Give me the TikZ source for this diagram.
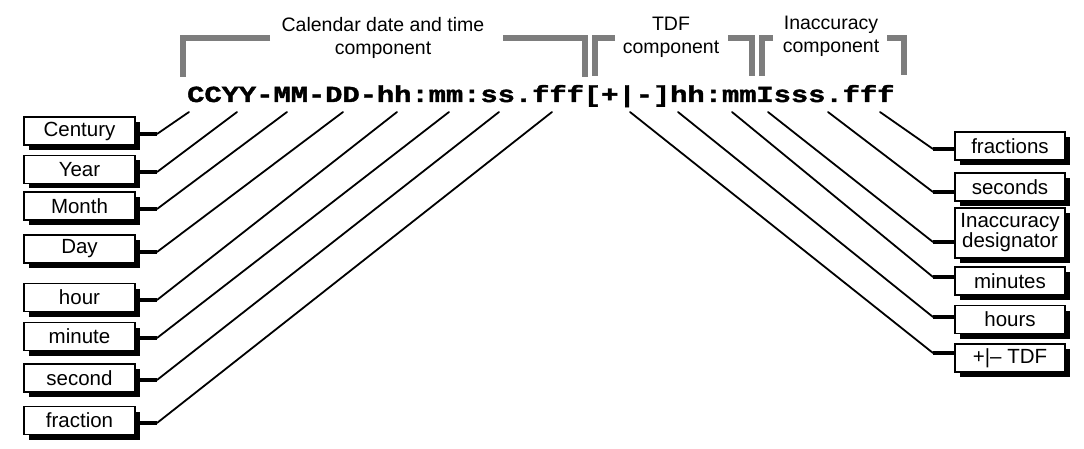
\documentclass[tikz,border=0pt]{standalone}
\usepackage{graphicx}
\usepackage{fontspec}
\setmainfont{Liberation Sans}
\newfontfamily\codefont[BoldFeatures={FakeBold=1.5}]{Liberation Mono}
\usetikzlibrary{shadows}
\definecolor{brk}{RGB}{125,125,125}
\begin{document}
\begin{tikzpicture}[x=1pt,y=-1pt,
  lbl/.style={draw, line width=1.8pt, fill=white, minimum width=111pt, minimum height=28pt,
    inner sep=0pt, align=center, font=\fontsize{20.5}{17}\selectfont,
    drop shadow={shadow xshift=5pt, shadow yshift=-5pt, fill=black, opacity=1}},
  rlbl/.style={lbl, minimum width=110pt},
  head/.style={align=center, inner sep=0pt, font=\fontsize{19.5}{23}\selectfont},
  bracket/.style={draw=brk, line width=6pt, line cap=butt, line join=miter},
  leader/.style={line width=1.8pt, line cap=round},
  stub/.style={line width=4pt, line cap=butt}]
\useasboundingbox (0,0) rectangle (1084,449);

% bracket headings
\node[head] (hcal) at (383,38) {Calendar date and time\\component};
\node[head] (htdf) at (671,37) {TDF\\component};
\node[head] (hina) at (831,36) {Inaccuracy\\component};

\draw[bracket] (270,38) -- (183,38) -- (183,77);
\draw[bracket] (503,38) -- (585,38) -- (585,77);
\draw[bracket] (615,38) -- (595,38) -- (595,76);
\draw[bracket] (728,38) -- (752,38) -- (752,76);
\draw[bracket] (773,38) -- (762,38) -- (762,76);
\draw[bracket] (887,38) -- (904,38) -- (904,75);

% format string
\node[anchor=base west, inner sep=0pt] (code) at (187,102)
  {\scalebox{1.25}[1]{\codefont\bfseries\fontsize{23}{23}\selectfont CCYY-MM-DD-hh:mm:ss.fff[+|-]hh:mmIsss.fff}};

% left boxes
\node[lbl] (century) at (79.5,131)   {Century};
\node[lbl] (year)    at (79.5,169.5) {Year};
\node[lbl] (month)   at (79.5,206)   {Month};
\node[lbl] (day)     at (79.5,249)   {Day};
\node[lbl] (hour)    at (79.5,297.5) {hour};
\node[lbl] (minute)  at (79.5,336.5) {minute};
\node[lbl] (second)  at (79.5,378)   {second};
\node[lbl] (fraction)at (79.5,420.5) {fraction};

% right boxes
\node[rlbl] (fractions) at (1010,146)   {fractions};
\node[rlbl] (seconds)   at (1010,187)   {seconds};
\node[rlbl, minimum height=50pt] (desig) at (1010,233) {Inaccuracy\\designator};
\node[rlbl] (minutes)   at (1010,281)   {minutes};
\node[rlbl] (hours)     at (1010,319.5) {hours};
\node[rlbl] (tdf)       at (1010,358)   {+|– TDF};

% leader top ends (under the format string)
\coordinate (tCentury) at (189,112);
\coordinate (tYear)    at (237,112);
\coordinate (tMonth)   at (287,112);
\coordinate (tDay)     at (343,112);
\coordinate (tHour)    at (397,112);
\coordinate (tMinute)  at (449,112);
\coordinate (tSecond)  at (499,112);
\coordinate (tFraction)at (552,112);
\coordinate (tTdf)       at (630,112);
\coordinate (tHours)     at (678,112);
\coordinate (tMinutes)   at (732,112);
\coordinate (tDesig)     at (768,112);
\coordinate (tSeconds)   at (828,112);
\coordinate (tFractions) at (880,112);

% corners
\coordinate (cCentury) at (157,134);
\coordinate (cYear)    at (157,172);
\coordinate (cMonth)   at (157,209);
\coordinate (cDay)     at (157,252);
\coordinate (cHour)    at (157,300);
\coordinate (cMinute)  at (157,338);
\coordinate (cSecond)  at (157,380);
\coordinate (cFraction)at (157,423);
\coordinate (cFractions) at (933,149);
\coordinate (cSeconds)   at (933,192);
\coordinate (cDesig)     at (933,242);
\coordinate (cMinutes)   at (933,277);
\coordinate (cHours)     at (933,317);
\coordinate (cTdf)       at (933,353);

\foreach \n/\b in {Century/century,Year/year,Month/month,Day/day,Hour/hour,Minute/minute,Second/second,Fraction/fraction}{
  \draw[leader] (t\n) -- (c\n);
  \draw[stub] (c\n) -- (c\n -| \b.east);
}
\foreach \n/\b in {Fractions/fractions,Seconds/seconds,Desig/desig,Minutes/minutes,Hours/hours,Tdf/tdf}{
  \draw[leader] (t\n) -- (c\n);
  \draw[stub] (c\n) -- (c\n -| \b.west);
}
\end{tikzpicture}
\end{document}
